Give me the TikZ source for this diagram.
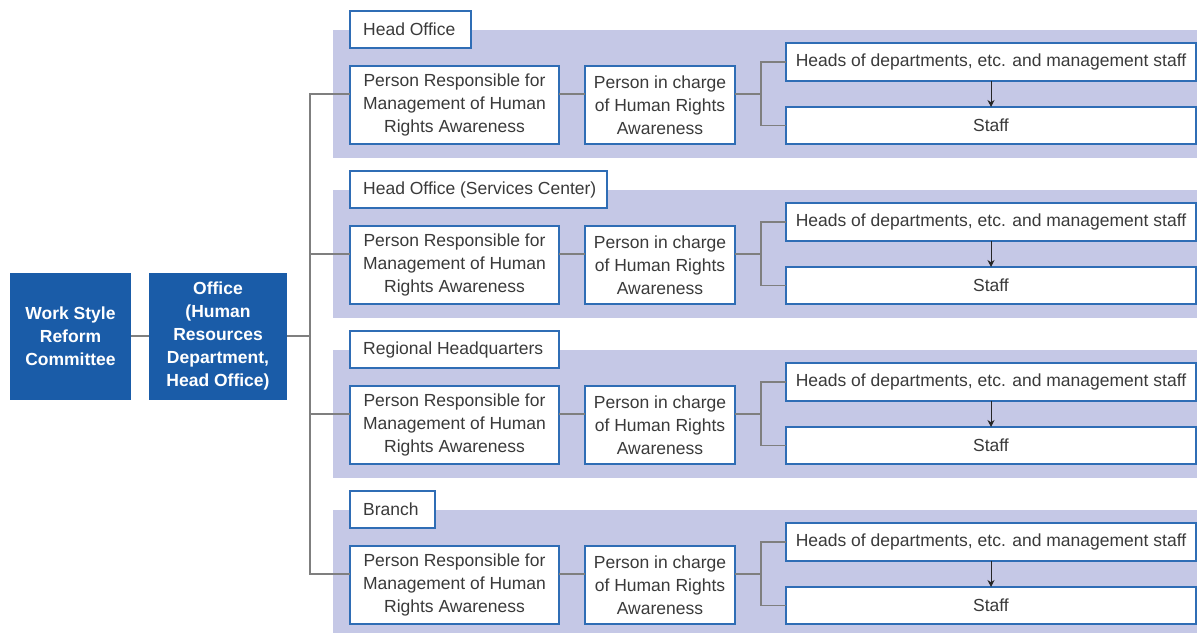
\documentclass[tikz,border=0pt]{standalone}
\usepackage{fontspec}
\setmainfont{Liberation Sans}
\usetikzlibrary{arrows.meta,calc}
\definecolor{bandc}{HTML}{C5C8E6}
\definecolor{bluec}{HTML}{1A5CA8}
\definecolor{borderc}{HTML}{2F6DB5}
\definecolor{linec}{HTML}{7F7F7F}
\definecolor{textc}{HTML}{3A3A3A}
\tikzset{
  wbox/.style={draw=borderc, line width=1.6pt, fill=white, rectangle, inner sep=0pt, outer sep=0pt,
    align=center, text=textc, font=\fontsize{17.5}{23}\selectfont},
  bbox/.style={fill=bluec, rectangle, inner sep=0pt, outer sep=0pt, align=center, text=white,
    font=\fontsize{17.5}{23}\selectfont\bfseries},
  conn/.style={draw=linec, line width=1.3pt},
  arr/.style={draw=black!85, line width=1pt, -{Stealth[length=7pt,width=7pt]}}
}
\begin{document}
\begin{tikzpicture}[x=1pt,y=-1pt]
\useasboundingbox[fill=white] (0,0) rectangle (1197,632);
% bands
\foreach \i in {0,1,2,3}{
  \fill[bandc] (333,30+160*\i) rectangle (1200,158+160*\i);
}
% left boxes
\node[bbox, minimum width=121pt, minimum height=127pt] (wsrc) at (70.5,336) {Work Style\\Reform\\Committee};
\node[bbox, minimum width=138pt, minimum height=127pt] (office) at (218,336) {Office\\(Human\\Resources\\Department,\\Head Office)};
\draw[conn] (wsrc.east) -- (office.east -| office.west);
\coordinate (trunk) at (310,336);
\draw[conn] (office.east) -- (trunk);
\foreach \i/\lab/\w in {0/Head Office/121, 1/Head Office (Services Center)/257, 2/Regional Headquarters/209, 3/Branch/85}{
  \pgfmathsetmacro{\yo}{160*\i}
  \node[wbox, minimum width=\w pt, minimum height=37pt, anchor=north west, text depth=0pt] (tab\i) at (350,11+\yo) {};
  \node[text=textc, font=\fontsize{17.5}{23}\selectfont, anchor=west, inner sep=0pt] (tabt\i) at (363,29.5+\yo) {\lab};
  \node[wbox, minimum width=209pt, minimum height=78pt] (pr\i) at (454.5,105+\yo) {Person Responsible for\\Management of Human\\Rights Awareness};
  \node[wbox, minimum width=150pt, minimum height=78pt] (pc\i) at (660,105+\yo) {Person in charge\\of Human Rights\\Awareness};
  \node[wbox, minimum width=410pt, minimum height=38pt] (hd\i) at (991,62+\yo) {Heads of departments, etc. and management staff};
  \node[wbox, minimum width=410pt, minimum height=37pt] (st\i) at (991,125.5+\yo) {Staff};
  \coordinate (j\i) at (761,94+\yo);
  \draw[conn] (pr\i.west |- j\i) -| (trunk);
  \draw[conn] (pr\i.east |- j\i) -- (pc\i.west |- j\i);
  \draw[conn] (pc\i.east |- j\i) -- (j\i);
  \draw[conn] (hd\i.west) -| (j\i) |- (st\i.west);
  \draw[arr] (hd\i.south) -- (st\i.north);
}
\end{tikzpicture}
\end{document}
